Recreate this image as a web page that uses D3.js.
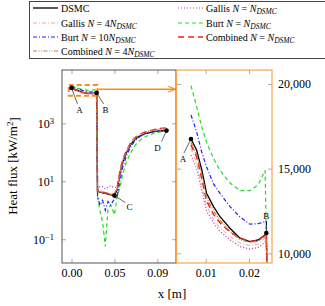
<!DOCTYPE html>
<html>
<head>
<meta charset="utf-8">
<script src="https://cdn.jsdelivr.net/npm/d3@7"></script>
<style>
body { margin: 0; background: #fff; }
svg { font-family: "Liberation Serif", "DejaVu Serif", serif; }
</style>
</head>
<body>
<script>
// series order = legend order
var names = ["DSMC", "Gallis N", "Gallis 4N", "Burt N", "Burt 10N", "Combined N", "Combined 4N"];

// left panel (log), x in m, heat flux in kW/m^2
var leftX = [0, 0.006, 0.012, 0.018, 0.024, 0.0275, 0.0285, 0.031, 0.034, 0.037, 0.040, 0.043, 0.047, 0.050, 0.053, 0.056, 0.060, 0.065, 0.070, 0.075, 0.080, 0.085, 0.090, 0.095, 0.100, 0.104];
var leftDSMC = [16700, 13700, 11900, 10800, 10800, 11200, 4.5, 4.2, 4.0, 3.8, 3.6, 3.4, 3.2, 5, 18, 45, 95, 190, 290, 370, 430, 480, 520, 540, 555, 560];
var leftGallisN = [15800, 13200, 11300, 10400, 10300, 10900, 5, 6.5, 6.5, 5.5, 6.5, 7, 6, 6.5, 20, 50, 105, 200, 300, 380, 440, 490, 530, 560, 580, 590];
var leftGallis4N = [16100, 13000, 11100, 10500, 10450, 11000, 4.8, 4.6, 4.3, 4.0, 3.8, 3.7, 3.6, 6, 21, 50, 100, 205, 310, 400, 470, 530, 580, 620, 650, 670];
var leftBurtN = [19900, 16500, 14600, 13800, 14000, 14800, 3, 1.0, 0.4, 0.056, 1.2, 1.5, 0.7, 3.0, 6, 17, 45, 100, 180, 260, 330, 400, 450, 490, 520, 540];
var leftBurt10N = [18200, 15500, 13700, 12300, 11800, 11900, 3.0, 1.5, 2.2, 1.0, 2.0, 1.5, 2.5, 3.0, 10, 30, 75, 160, 260, 350, 420, 470, 510, 535, 550, 555];
var leftCombN = [16400, 13400, 11500, 10700, 10700, 11200, 4.5, 4.5, 4.2, 4.0, 3.8, 3.6, 3.5, 6, 22, 55, 110, 220, 330, 420, 490, 550, 600, 650, 680, 700];
var leftComb4N = [16500, 13500, 11600, 10700, 10700, 11150, 4.5, 4.4, 4.1, 3.9, 3.7, 3.5, 3.4, 5.5, 20, 52, 105, 210, 320, 410, 480, 540, 590, 630, 660, 680];

// inset (linear)
var insetX = [0.0066, 0.0079, 0.0091, 0.0102, 0.0118, 0.0133, 0.0156, 0.0179, 0.0202, 0.0221, 0.0237, 0.0240, 0.0241];
var insetDSMC = [16750, 16100, 14920, 13540, 12760, 12160, 11480, 10890, 10690, 10790, 11080, 11200, 9000];
var insetGallisN = [15800, 15000, 13700, 12500, 11800, 11300, 10800, 10400, 10250, 10350, 10650, 10900, 9000];
var insetGallis4N = [16200, 15300, 14000, 12800, 12000, 11500, 11000, 10600, 10450, 10550, 10900, 11000, 9000];
var insetBurtN = [19900, 18660, 17450, 16550, 15600, 14900, 14150, 13700, 13700, 14040, 14900, 11000, 9000];
var insetBurt10N = [18170, 17180, 15950, 15100, 14100, 13540, 12760, 12150, 11720, 11750, 11870, 11870, 9000];
var insetCombN = [16400, 15700, 14400, 13100, 12300, 11800, 11250, 10900, 10700, 10750, 11100, 11200, 9000];
var insetComb4N = [16550, 15850, 14650, 13300, 12500, 11950, 11300, 10800, 10650, 10700, 11000, 11150, 9000];

// labelled points
var pointNames = ["A", "B", "C", "D"];
var pointX = [0, 0.0275, 0.047, 0.104];
var pointY = [16700, 11200, 3.2, 560];
var insetPointNames = ["A", "B"];
var insetPointX = [0.0066, 0.0240];
var insetPointY = [16750, 11200];

// ticks
var leftXTicks = [0, 0.047, 0.094];
var leftYTicks = [0.1, 10, 1000];
var insetXTicks = [0.01, 0.02];
var insetYTicks = [10000, 15000, 20000];

var leftSeries = [leftDSMC, leftGallisN, leftGallis4N, leftBurtN, leftBurt10N, leftCombN, leftComb4N];
var insetSeries = [insetDSMC, insetGallisN, insetGallis4N, insetBurtN, insetBurt10N, insetCombN, insetComb4N];

var styles = [
  { color: "#000000", dash: null, w: 1.3 },
  { color: "#b23bb2", dash: "1,2", w: 1.2 },
  { color: "#f5a3a3", dash: "4,2,1,2", w: 1 },
  { color: "#22dd22", dash: "4,3", w: 1.2 },
  { color: "#2222ff", dash: "4,2,1,2", w: 1.2 },
  { color: "#ee2222", dash: "6,4", w: 1.5 },
  { color: "#c8803a", dash: "4,1.5,1,1.5,1,1.5", w: 1.2 }
];

var svg = d3.select("body").append("svg")
  .attr("width", 325)
  .attr("height", 306);

// ---- legend ----
var legend = svg.append("g");
legend.append("rect")
  .attr("x", 29.5).attr("y", 1.5)
  .attr("width", 310).attr("height", 57)
  .attr("fill", "#fff").attr("stroke", "#444").attr("stroke-width", 1);

// [text, kind]: kind "" plain, "i" italic, "s" italic subscript
var legendLabels = [
  [["DSMC", ""]],
  [["Gallis ", ""], ["N", "i"], [" = ", ""], ["N", "i"], ["DSMC", "s"]],
  [["Gallis ", ""], ["N", "i"], [" = 4", ""], ["N", "i"], ["DSMC", "s"]],
  [["Burt ", ""], ["N", "i"], [" = ", ""], ["N", "i"], ["DSMC", "s"]],
  [["Burt ", ""], ["N", "i"], [" = 10", ""], ["N", "i"], ["DSMC", "s"]],
  [["Combined ", ""], ["N", "i"], [" = ", ""], ["N", "i"], ["DSMC", "s"]],
  [["Combined ", ""], ["N", "i"], [" = 4", ""], ["N", "i"], ["DSMC", "s"]]
];
var rowY = [8, 23, 37, 51];

legendLabels.forEach(function (parts, i) {
  var col = (i % 2), row = Math.floor(i / 2);
  var x0 = col === 0 ? 33 : 178;
  var y0 = rowY[row];
  legend.append("line")
    .attr("x1", x0).attr("x2", x0 + 25).attr("y1", y0).attr("y2", y0)
    .attr("stroke", styles[i].color)
    .attr("stroke-width", styles[i].w)
    .attr("stroke-dasharray", styles[i].dash);
  var t = legend.append("text")
    .attr("x", x0 + 28).attr("y", y0 + 3.5)
    .attr("font-size", "10px");
  parts.forEach(function (p) {
    var ts = t.append("tspan").text(p[0]);
    if (p[1] === "i") ts.attr("font-style", "italic");
    if (p[1] === "s") ts.attr("font-style", "italic").attr("font-size", "7.5px").attr("dy", "2.5");
  });
});

// ---- scales ----
var xL = d3.scaleLinear().domain([-0.0104, 0.1144]).range([62, 176]);
var yL = d3.scaleLog().domain([Math.pow(10, -1.82), Math.pow(10, 4.84)]).range([263, 70]);
var xR = d3.scaleLinear().domain([0.00337, 0.0253]).range([177, 272]);
var yR = d3.scaleLinear().domain([9427, 20826]).range([263, 70]);

var defs = svg.append("defs");
defs.append("clipPath").attr("id", "clipL").append("rect")
  .attr("x", 62).attr("y", 70).attr("width", 114).attr("height", 193);
defs.append("clipPath").attr("id", "clipR").append("rect")
  .attr("x", 177).attr("y", 70).attr("width", 95).attr("height", 193);

// ---- axes, left ----
function styleAxis(g) {
  g.attr("font-family", null);
  g.select(".domain").remove();
  g.selectAll(".tick line").attr("stroke", "#aaa");
  g.selectAll(".tick text").attr("fill", "#000")
    .attr("font-size", "12px");
}

svg.append("g").attr("transform", "translate(0,263)")
  .call(d3.axisBottom(xL).tickValues(leftXTicks).tickFormat(d3.format(".2f")).tickSizeInner(-4).tickSizeOuter(0).tickPadding(5))
  .call(styleAxis);
svg.append("g").attr("transform", "translate(0,70)")
  .call(d3.axisTop(xL).tickValues(leftXTicks).tickFormat("").tickSizeInner(-4).tickSizeOuter(0))
  .call(styleAxis);
svg.append("g").attr("transform", "translate(62,0)")
  .call(d3.axisLeft(yL).tickValues(leftYTicks).tickSizeInner(-4).tickSizeOuter(0).tickPadding(8))
  .call(styleAxis)
  .selectAll(".tick text").each(function (d) {
    var e = Math.round(Math.log10(d));
    var t = d3.select(this).text("10");
    t.append("tspan").attr("dy", "-0.45em").attr("font-size", "8.5px").text(e < 0 ? "\u2212" + (-e) : e);
  });
svg.append("g").attr("transform", "translate(176,0)")
  .call(d3.axisRight(yL).tickValues(leftYTicks).tickFormat("").tickSizeInner(-4).tickSizeOuter(0))
  .call(styleAxis);

// ---- axes, inset ----
svg.append("g").attr("transform", "translate(0,263)")
  .call(d3.axisBottom(xR).tickValues(insetXTicks).tickFormat(d3.format(".2f")).tickSizeInner(-4).tickSizeOuter(0).tickPadding(5))
  .call(styleAxis);
svg.append("g").attr("transform", "translate(0,70)")
  .call(d3.axisTop(xR).tickValues(insetXTicks).tickFormat("").tickSizeInner(-4).tickSizeOuter(0))
  .call(styleAxis);
svg.append("g").attr("transform", "translate(272,0)")
  .call(d3.axisRight(yR).tickValues(insetYTicks).tickFormat(d3.format(",")).tickSizeInner(-4).tickSizeOuter(0).tickPadding(6))
  .call(styleAxis);
svg.append("g").attr("transform", "translate(177,0)")
  .call(d3.axisLeft(yR).tickValues(insetYTicks).tickFormat("").tickSizeInner(-4).tickSizeOuter(0))
  .call(styleAxis);

// ---- lines ----
var lineL = d3.line().x(function (d) { return xL(d[0]); }).y(function (d) { return yL(d[1]); });
var lineR = d3.line().x(function (d) { return xR(d[0]); }).y(function (d) { return yR(d[1]); });

var gL = svg.append("g").attr("clip-path", "url(#clipL)");
var gR = svg.append("g").attr("clip-path", "url(#clipR)");

leftSeries.forEach(function (vals, i) {
  gL.append("path")
    .datum(leftX.map(function (x, k) { return [x, vals[k]]; }))
    .attr("d", lineL)
    .attr("fill", "none")
    .attr("stroke", styles[i].color)
    .attr("stroke-width", styles[i].w)
    .attr("stroke-dasharray", styles[i].dash);
});
insetSeries.forEach(function (vals, i) {
  gR.append("path")
    .datum(insetX.map(function (x, k) { return [x, vals[k]]; }))
    .attr("d", lineR)
    .attr("fill", "none")
    .attr("stroke", styles[i].color)
    .attr("stroke-width", styles[i].w)
    .attr("stroke-dasharray", styles[i].dash);
});

// ---- zoom box + arrow ----
svg.append("rect")
  .attr("x", xL(-0.003)).attr("y", yL(21000))
  .attr("width", xL(0.0285) - xL(-0.003)).attr("height", yL(9000) - yL(21000))
  .attr("fill", "none").attr("stroke", "#ff8c1a").attr("stroke-width", 2)
  .attr("stroke-dasharray", "5,3");

defs.append("marker").attr("id", "arr")
  .attr("viewBox", "0 0 10 10").attr("refX", 9).attr("refY", 5)
  .attr("markerWidth", 5).attr("markerHeight", 5).attr("orient", "auto")
  .append("path").attr("d", "M0,1 L9,5 L0,9").attr("fill", "none").attr("stroke", "#ff8c1a").attr("stroke-width", 1.5);
svg.append("line")
  .attr("x1", xL(0.0295)).attr("x2", 175).attr("y1", yL(15000)).attr("y2", yL(15000))
  .attr("stroke", "#ff8c1a").attr("stroke-width", 1.5)
  .attr("marker-end", "url(#arr)");

// ---- frames ----
svg.append("rect").attr("x", 62).attr("y", 70).attr("width", 114).attr("height", 193)
  .attr("fill", "none").attr("stroke", "#555").attr("stroke-width", 1);
svg.append("rect").attr("x", 176.5).attr("y", 70).attr("width", 95.5).attr("height", 193)
  .attr("fill", "none").attr("stroke", "#f7a54f").attr("stroke-width", 1.2);

// ---- labelled points ----
var labelOff = [[8, 22], [9, 17], [15, 11], [-9, 17]];
var leaderOff = [[6, 16], [7, 11], [11, 7], [-5, 11]];
pointNames.forEach(function (n, i) {
  var px = xL(pointX[i]), py = yL(pointY[i]);
  svg.append("line").attr("x1", px).attr("y1", py)
    .attr("x2", px + leaderOff[i][0]).attr("y2", py + leaderOff[i][1])
    .attr("stroke", "#000").attr("stroke-width", 0.6);
  svg.append("circle").attr("cx", px).attr("cy", py).attr("r", 2.3).attr("fill", "#000");
  svg.append("text").attr("x", px + labelOff[i][0]).attr("y", py + labelOff[i][1] + 3)
    .attr("text-anchor", "middle").attr("font-size", "9px").text(n);
});

var insetLabelOff = [[-8, 20], [0, -17]];
var insetLeaderOff = [[-7, 14], [0, -12]];
insetPointNames.forEach(function (n, i) {
  var px = xR(insetPointX[i]), py = yR(insetPointY[i]);
  svg.append("line").attr("x1", px).attr("y1", py)
    .attr("x2", px + insetLeaderOff[i][0]).attr("y2", py + insetLeaderOff[i][1])
    .attr("stroke", "#000").attr("stroke-width", 0.6);
  svg.append("circle").attr("cx", px).attr("cy", py).attr("r", 2.3).attr("fill", "#000");
  svg.append("text").attr("x", px + insetLabelOff[i][0]).attr("y", py + insetLabelOff[i][1] + 3)
    .attr("text-anchor", "middle").attr("font-size", "9px").text(n);
});

// ---- axis titles ----
svg.append("text").attr("x", 172).attr("y", 298)
  .attr("text-anchor", "middle").attr("font-size", "13px").text("x [m]");
var yt = svg.append("text")
  .attr("transform", "translate(17,166) rotate(-90)")
  .attr("text-anchor", "middle").attr("font-size", "13px");
yt.append("tspan").text("Heat flux [kW/m");
yt.append("tspan").attr("dy", "-0.45em").attr("font-size", "9px").text("2");
yt.append("tspan").attr("dy", "0.45em").text("]");
</script>
</body>
</html>
